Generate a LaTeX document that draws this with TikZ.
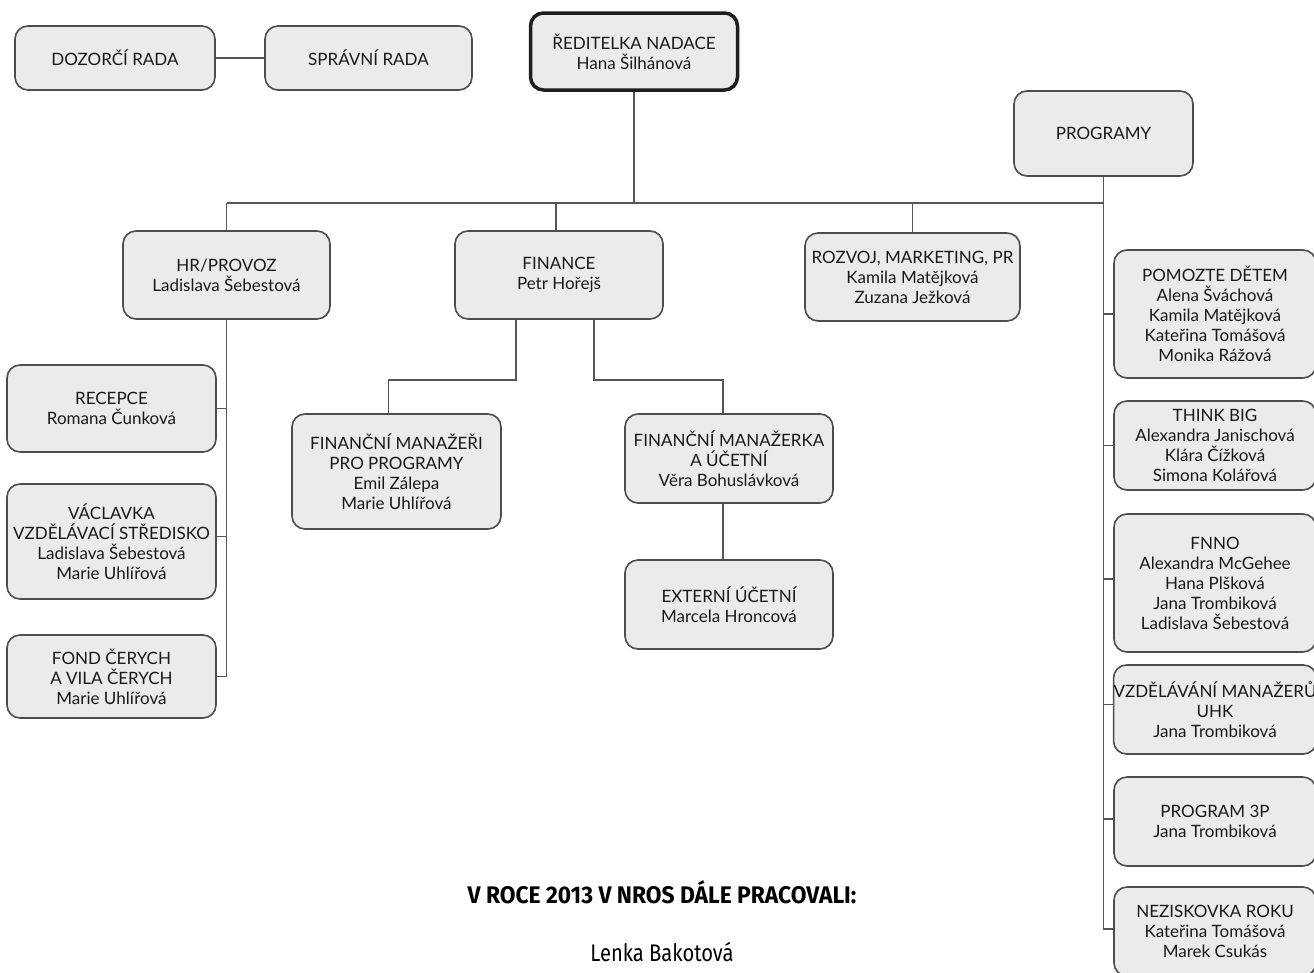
\documentclass[tikz,border=0pt]{standalone}
\usepackage{fontspec}
\setmainfont{Lato}
\newfontfamily\condfont[FakeStretch=0.84]{Fira Sans}
\newfontfamily\condboldfont[FakeStretch=0.95]{Fira Sans}
\definecolor{boxfill}{HTML}{EBEBEB}
\definecolor{boxline}{HTML}{4D4D4D}
\definecolor{linkc}{HTML}{555555}
\definecolor{headline}{HTML}{1E1E1E}
\tikzset{
  orgbox/.style={draw=boxline, line width=1.6pt, fill=boxfill, rounded corners=13pt,
    align=center, inner sep=0pt, font=\fontsize{17}{20}\selectfont, text=black!90},
  headbox/.style={orgbox, draw=headline, line width=3.5pt},
  link/.style={draw=linkc, line width=1.6pt},
}
\begin{document}
\begin{tikzpicture}[x=1pt, y=-1pt]
\useasboundingbox (0,0) rectangle (1314,972);
\fill[white] (0,0) rectangle (1314,972);
% top
\node[orgbox, minimum width=200, minimum height=64] (dozorci) at (115,58) {DOZORČÍ RADA};
\node[orgbox, minimum width=207, minimum height=64] (spravni) at (368.5,58) {SPRÁVNÍ RADA};
\node[headbox, minimum width=207, minimum height=77] (reditelka) at (634,51.5) {ŘEDITELKA NADACE\\Hana Šilhánová};
\node[orgbox, minimum width=179, minimum height=85] (programy) at (1103.5,133.5) {PROGRAMY};
% second level
\node[orgbox, minimum width=207, minimum height=88] (hr) at (226.5,275) {HR/PROVOZ\\Ladislava Šebestová};
\node[orgbox, minimum width=208, minimum height=88] (finance) at (559,275) {FINANCE\\Petr Hořejš};
\node[orgbox, minimum width=215, minimum height=88] (rozvoj) at (912.5,277) {ROZVOJ, MARKETING, PR\\Kamila Matějková\\Zuzana Ježková};
% HR children
\node[orgbox, minimum width=209, minimum height=87] (recepce) at (111.5,408.5) {RECEPCE\\Romana Čunková};
\node[orgbox, minimum width=209, minimum height=115] (vaclavka) at (111.5,541.5) {VÁCLAVKA\\VZDĚLÁVACÍ STŘEDISKO\\Ladislava Šebestová\\Marie Uhlířová};
\node[orgbox, minimum width=209, minimum height=83] (fond) at (111.5,676.5) {FOND ČERYCH\\A VILA ČERYCH\\Marie Uhlířová};
% finance children
\node[orgbox, minimum width=209, minimum height=115] (finman) at (396.5,471.5) {FINANČNÍ MANAŽEŘI\\PRO PROGRAMY\\Emil Zálepa\\Marie Uhlířová};
\node[orgbox, minimum width=208, minimum height=89] (finmanka) at (729,458.5) {FINANČNÍ MANAŽERKA\\A ÚČETNÍ\\Věra Bohuslávková};
\node[orgbox, minimum width=208, minimum height=89] (externi) at (729,604.5) {EXTERNÍ ÚČETNÍ\\Marcela Hroncová};
% programs
\node[orgbox, minimum width=202, minimum height=128] (pomozte) at (1215,314) {POMOZTE DĚTEM\\Alena Šváchová\\Kamila Matějková\\Kateřina Tomášová\\Monika Rážová};
\node[orgbox, minimum width=202, minimum height=89] (think) at (1215,445.5) {THINK BIG\\Alexandra Janischová\\Klára Čížková\\Simona Kolářová};
\node[orgbox, minimum width=202, minimum height=138] (fnno) at (1215,583) {FNNO\\Alexandra McGehee\\Hana Plšková\\Jana Trombiková\\Ladislava Šebestová};
\node[orgbox, minimum width=202, minimum height=89] (vzdel) at (1215,709.5) {VZDĚLÁVÁNÍ MANAŽERŮ\\UHK\\Jana Trombiková};
\node[orgbox, minimum width=202, minimum height=89] (p3p) at (1215,821.5) {PROGRAM 3P\\Jana Trombiková};
\node[orgbox, minimum width=202, minimum height=89] (nezisk) at (1215,931.5) {NEZISKOVKA ROKU\\Kateřina Tomášová\\Marek Csukás};
% bottom text
\node[font=\condboldfont\bfseries\fontsize{24}{28}\selectfont, text=black] (note) at (662,892) {V ROCE 2013 V NROS DÁLE PRACOVALI:};
\node[font=\condfont\fontsize{24}{28}\selectfont, text=black] (lenka) at (662,952) {Lenka Bakotová};
% connectors
\coordinate (bus) at (0,203);
\draw[link] (dozorci.east) -- (spravni.west);
\draw[link] (reditelka.south) -- (reditelka.south |- bus);
\draw[link] (hr.north |- bus) -- (programy.south |- bus);
\draw[link] (hr.north) -- (hr.north |- bus);
\draw[link] ([xshift=-3]finance.north) -- ([xshift=-3]finance.north |- bus);
\draw[link] (rozvoj.north) -- (rozvoj.north |- bus);
% HR branch
\draw[link] (hr.south) |- (fond.east);
\draw[link] (recepce.east) -- (recepce.east -| hr.south);
\draw[link] ([yshift=5]vaclavka.east) -- ([yshift=5]vaclavka.east -| hr.south);
% finance branch
\draw[link] ([xshift=-43]finance.south) -- ++(0,60) -| ([xshift=-8]finman.north);
\draw[link] ([xshift=35]finance.south) -- ++(0,60) -| ([xshift=-6]finmanka.north);
\draw[link] ([xshift=-6]finmanka.south) -- ([xshift=-6]externi.north);
% programs branch
\draw[link] (programy.south) |- ([yshift=2.5]nezisk.west);
\draw[link] (pomozte.west) -- (pomozte.west -| programy.south);
\draw[link] (think.west) -- (think.west -| programy.south);
\draw[link] ([yshift=4]fnno.west) -- ([yshift=4]fnno.west -| programy.south);
\draw[link] ([yshift=5]vzdel.west) -- ([yshift=5]vzdel.west -| programy.south);
\draw[link] ([yshift=2.5]p3p.west) -- ([yshift=2.5]p3p.west -| programy.south);
\end{tikzpicture}
\end{document}
